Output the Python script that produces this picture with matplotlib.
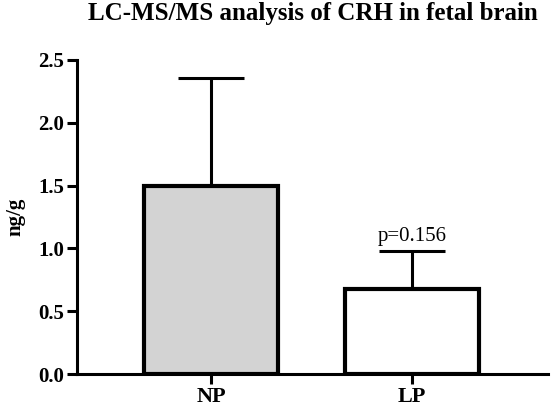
import numpy as np
import matplotlib
matplotlib.use("Agg")
import matplotlib.pyplot as plt

plt.rcParams['font.family'] = ['Liberation Serif', 'DejaVu Serif']

groups = ['NP', 'LP']
means = [1.50, 0.68]
errs = [0.86, 0.30]
colors = ['#d3d3d3', 'white']
p_text = 'p=0.156'

fig = plt.figure(figsize=(5.51, 4.08), dpi=100)
ax = fig.add_axes([0.1397, 0.0833, 0.855, 0.7697])

x = np.arange(len(groups))
ax.bar(x, means, width=0.67, color=colors, edgecolor='black', linewidth=3.0, zorder=2)
ax.errorbar(x, means, yerr=[np.zeros(len(errs)), errs], fmt='none', ecolor='black',
            elinewidth=2.2, capsize=24, capthick=2.2, zorder=1)

ax.text(x[1], means[1] + errs[1] + 0.04, p_text, ha='center', va='bottom', fontsize=15)

ax.set_xlim(-0.667, 1.677)
ax.set_ylim(0, 2.5)
ticks = np.arange(0, 2.51, 0.5)
ax.set_yticks(ticks)
ax.set_yticklabels(['%.1f' % v for v in ticks], fontweight='bold', fontsize=15)
ax.set_xticks(x)
ax.set_xticklabels(groups, fontweight='bold', fontsize=16)
ax.tick_params(axis='both', direction='out', length=7, width=2.2, pad=2)
ax.spines['top'].set_visible(False)
ax.spines['right'].set_visible(False)
ax.spines['left'].set_linewidth(2.2)
ax.spines['bottom'].set_linewidth(2.2)
ax.set_ylabel('ng/g', fontweight='bold', fontsize=15, va='center')
ax.yaxis.set_label_coords(-0.13, 0.5)
ax.set_title('LC-MS/MS analysis of CRH in fetal brain', fontweight='bold', fontsize=18, pad=29)

fig.savefig('out.png', dpi=100)
